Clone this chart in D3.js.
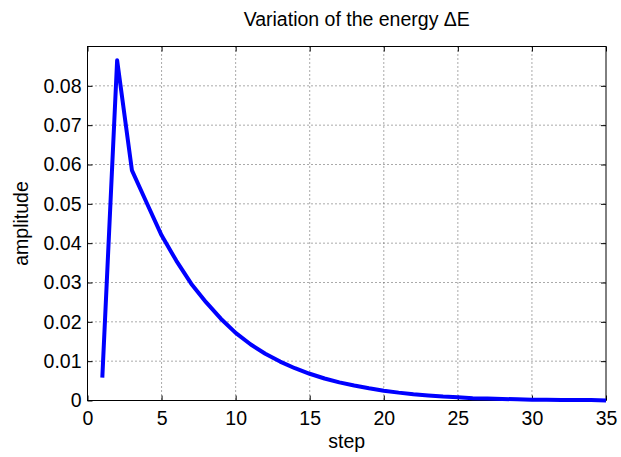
<!DOCTYPE html>
<html>
<head>
<meta charset="utf-8">
<script src="https://cdn.jsdelivr.net/npm/d3@7"></script>
<style>
  body { margin: 0; background: #fff; }
  svg text { font-family: "Liberation Sans", Arial, Helvetica, sans-serif; fill: #000; }
</style>
</head>
<body>
<div id="chart"></div>
<script>
// energy variation per step
const steps = d3.range(1, 36);
const energy = [0.0058, 0.0865, 0.0585, 0.0502, 0.0420, 0.0355, 0.0297, 0.0250, 0.0208, 0.0172,
                0.0143, 0.0119, 0.0099, 0.0082, 0.0068, 0.0056, 0.0046, 0.0038, 0.0031, 0.0025,
                0.0020, 0.0016, 0.0013, 0.0010, 0.0008, 0.0006, 0.0005, 0.0004, 0.0003, 0.0002,
                0.0002, 0.0001, 0.0001, 0.0001, 0.0000];
const xTicks = [0, 5, 10, 15, 20, 25, 30, 35];
const yTicks = [0, 0.01, 0.02, 0.03, 0.04, 0.05, 0.06, 0.07, 0.08];

var W = 621, H = 457;
var margin = {top: 46.5, right: 15, bottom: 56.5, left: 87.5},
    width = W - margin.left - margin.right,
    height = H - margin.top - margin.bottom;

var svg = d3.select("#chart").append("svg")
  .attr("width", W).attr("height", H);

var g = svg.append("g")
  .attr("transform", "translate(" + margin.left + "," + margin.top + ")");

var x = d3.scaleLinear().domain([0, 35]).range([0, width]);
var y = d3.scaleLinear().domain([0, 0.09]).range([height, 0]);

// dotted grid
g.selectAll(".gx").data(xTicks.slice(1, -1)).enter().append("line")
  .attr("x1", d => x(d)).attr("x2", d => x(d))
  .attr("y1", 0).attr("y2", height)
  .attr("stroke", "#555").attr("stroke-width", 1).attr("stroke-dasharray", "1,3");
g.selectAll(".gy").data(yTicks.slice(1)).enter().append("line")
  .attr("x1", 0).attr("x2", width)
  .attr("y1", d => y(d)).attr("y2", d => y(d))
  .attr("stroke", "#555").attr("stroke-width", 1).attr("stroke-dasharray", "1,3");

// axes with inward ticks on all sides
var tl = 5;
g.append("g").attr("transform", "translate(0," + height + ")")
  .call(d3.axisBottom(x).tickValues(xTicks).tickSizeInner(-tl).tickSizeOuter(0).tickPadding(11).tickFormat(d3.format("d")))
  .call(a => a.selectAll("text").style("font-size", "19.5px"));
g.append("g")
  .call(d3.axisTop(x).tickValues(xTicks).tickSizeInner(-tl).tickSizeOuter(0).tickFormat(""));
g.append("g")
  .call(d3.axisLeft(y).tickValues(yTicks).tickSizeInner(-tl).tickSizeOuter(0).tickPadding(6).tickFormat(d => d === 0 ? "0" : d3.format(".2f")(d)))
  .call(a => a.selectAll("text").style("font-size", "19.5px"));
g.append("g").attr("transform", "translate(" + width + ",0)")
  .call(d3.axisRight(y).tickValues(yTicks).tickSizeInner(-tl).tickSizeOuter(0).tickFormat(""));

g.selectAll(".domain").remove();
g.selectAll(".tick line").attr("stroke", "#000");
g.selectAll(".tick text").attr("fill", "#000");

g.append("rect")
  .attr("width", width).attr("height", height)
  .attr("fill", "none").attr("stroke", "#000").attr("stroke-width", 1);

// the curve
var line = d3.line().x((d, i) => x(steps[i])).y(d => y(d));
g.append("path").datum(energy)
  .attr("d", line)
  .attr("fill", "none")
  .attr("stroke", "#0000ff")
  .attr("stroke-width", 4)
  .attr("stroke-linejoin", "round");

// labels
svg.append("text")
  .attr("x", margin.left + width / 2 + 10).attr("y", 26)
  .attr("text-anchor", "middle")
  .style("font-size", "19.5px")
  .text("Variation of the energy \u0394E");

svg.append("text")
  .attr("x", margin.left + width / 2).attr("y", 448)
  .attr("text-anchor", "middle")
  .style("font-size", "19.5px")
  .text("step");

svg.append("text")
  .attr("transform", "translate(28," + (margin.top + height / 2) + ") rotate(-90)")
  .attr("text-anchor", "middle")
  .style("font-size", "19.5px")
  .text("amplitude");
</script>
</body>
</html>
